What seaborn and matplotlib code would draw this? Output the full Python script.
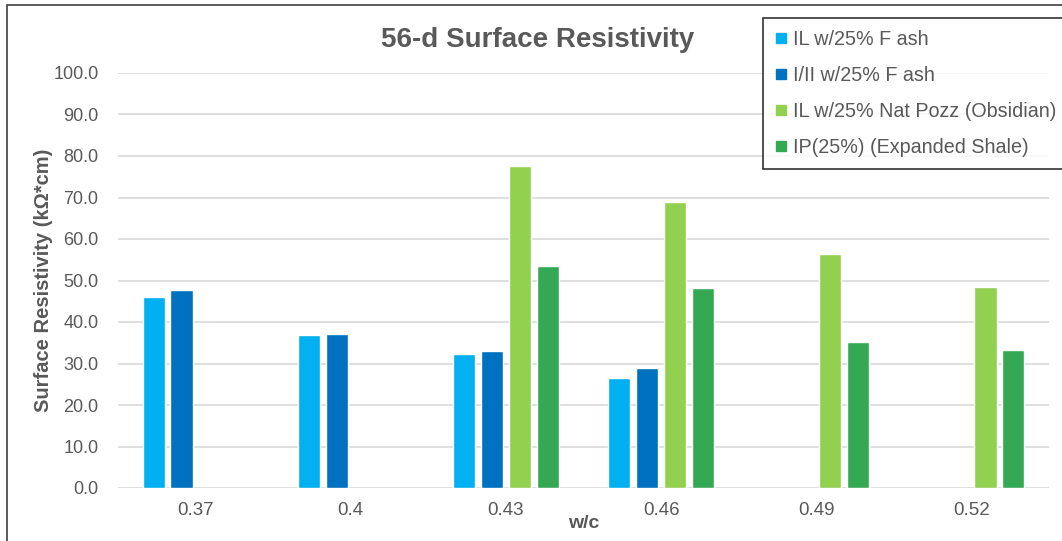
import matplotlib
matplotlib.use("Agg")
import matplotlib.pyplot as plt
import seaborn as sns
import pandas as pd
import numpy as np
from matplotlib.lines import Line2D
from matplotlib.patches import Rectangle

categories = ["0.37", "0.4", "0.43", "0.46", "0.49", "0.52"]
series_names = ["IL w/25% F ash", "I/II w/25% F ash",
                "IL w/25% Nat Pozz (Obsidian)", "IP(25%) (Expanded Shale)"]
il_fash = [46.0, 36.9, 32.4, 26.5, np.nan, np.nan]
i_ii_fash = [47.6, 37.1, 32.9, 28.9, np.nan, np.nan]
obsidian = [np.nan, np.nan, 77.5, 68.8, 56.3, 48.4]
shale = [np.nan, np.nan, 53.4, 48.2, 35.3, 33.2]
colors = ["#00B0F0", "#0070C0", "#92D050", "#34A853"]

rows = []
for name, vals in zip(series_names, [il_fash, i_ii_fash, obsidian, shale]):
    for c, v in zip(categories, vals):
        rows.append({"wc": c, "series": name, "value": v})
df = pd.DataFrame(rows)

sns.set_theme(style="white")
plt.rcParams["font.family"] = ["Liberation Sans", "DejaVu Sans"]

fig = plt.figure(figsize=(10.62, 5.41), dpi=100)
ax = fig.add_axes([118/1062, 1-488/541, (1049-118)/1062, (488-73)/541])

sns.barplot(data=df, x="wc", y="value", hue="series", order=categories,
            hue_order=series_names, palette=colors, width=0.72, gap=0.2,
            ax=ax, legend=False, saturation=1, errorbar=None)

ax.set_ylim(0, 100)
ax.set_xlim(-0.5, len(categories) - 0.5)
ax.set_yticks(np.arange(0, 101, 10))
ax.set_yticklabels([f"{v:.1f}" for v in np.arange(0, 101, 10)])
ax.yaxis.grid(True, color="#D9D9D9", linewidth=1.2)
ax.set_axisbelow(True)
for s in ax.spines.values():
    s.set_visible(False)
ax.tick_params(axis="both", length=0, labelcolor="#595959")
ax.tick_params(axis="y", pad=14, labelsize=13)
ax.tick_params(axis="x", pad=10, labelsize=13.5)

ax.set_xlabel("w/c", fontsize=14, fontweight="bold", color="#595959", labelpad=-3)
ax.set_ylabel("Surface Resistivity (kΩ*cm)", fontsize=14.5, fontweight="bold",
              color="#595959", labelpad=0)

fig.text(538/1062, 1-40/541, "56-d Surface Resistivity", ha="center", va="center",
         fontsize=20, fontweight="bold", color="#595959")

handles = [Line2D([0], [0], marker="s", linestyle="none", markersize=7,
                  markerfacecolor=c, markeredgecolor=c) for c in colors]
leg = fig.legend(handles, series_names, loc="upper left",
                 bbox_to_anchor=(763/1062, 1-18/541), frameon=True, fancybox=False,
                 fontsize=14.2, labelspacing=0.86, handletextpad=0.3,
                 handlelength=0.6, borderpad=0.6, borderaxespad=0)
leg.get_frame().set_edgecolor("black")
leg.get_frame().set_linewidth(1.2)
for t in leg.get_texts():
    t.set_color("#595959")

fig.patches.append(Rectangle((7/1062, -0.1), 1.2, 1-5/541+0.1, transform=fig.transFigure,
                             fill=False, edgecolor="#404040", linewidth=1.2))

fig.savefig("out.png", dpi=100)
